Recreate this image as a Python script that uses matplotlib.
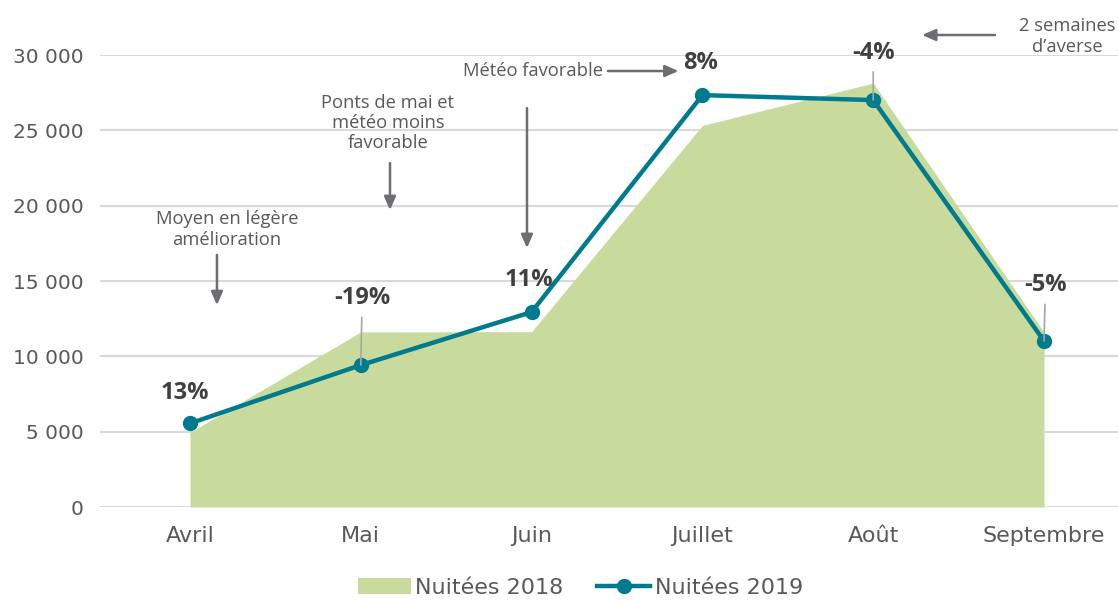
import matplotlib
matplotlib.use("Agg")
import matplotlib.pyplot as plt
from matplotlib.patches import Patch
from matplotlib.lines import Line2D

# --- data ---
mois = ["Avril", "Mai", "Juin", "Juillet", "Août", "Septembre"]
nuitees_2018 = [4950, 11620, 11640, 25330, 28140, 11600]
nuitees_2019 = [5550, 9420, 12940, 27340, 27010, 11020]
evolution = ["13%", "-19%", "11%", "8%", "-4%", "-5%"]
y_ticks = [0, 5000, 10000, 15000, 20000, 25000, 30000]
y_labels = ["0", "5 000", "10 000", "15 000", "20 000", "25 000", "30 000"]

GREEN = "#c9da9d"
TEAL = "#007b8e"
GRID = "#d9d9d9"
TXT = "#595959"
DARK = "#404040"
ARROW = "#6d6e71"

fig = plt.figure(figsize=(11.18, 6.01), dpi=100)
ax = fig.add_axes([0.0894, 0.1564, 0.9106, 0.752])

x = list(range(len(mois)))
ax.fill_between(x, 0, nuitees_2018, color=GREEN, lw=0, zorder=2)
ax.plot(x, nuitees_2019, color=TEAL, lw=3.2, marker="o", ms=10, zorder=4)

ax.set_xlim(-0.527, 5.433)
ax.set_ylim(0, 30000)
ax.set_yticks(y_ticks)
ax.set_yticklabels(y_labels)
ax.set_xticks(x)
ax.set_xticklabels(mois)
ax.tick_params(axis="y", length=0, pad=11.5, labelsize=14.5, labelcolor=TXT)
ax.tick_params(axis="x", length=0, pad=14, labelsize=16, labelcolor=TXT)
for s in ax.spines.values():
    s.set_visible(False)
ax.grid(axis="y", color=GRID, lw=1.5, zorder=0)
ax.set_axisbelow(True)

# percentage labels (offsets in points), some with a grey leader line
offsets = [(-4, 22), (1, 48), (-2, 23), (-1, 23), (0, 34), (1, 40)]
leader = [False, True, False, False, True, True]
for i in x:
    kw = dict(textcoords="offset points", ha="center", va="center",
              fontsize=17, fontweight="bold", color=DARK,
              fontfamily="Open Sans", zorder=5)
    if leader[i]:
        kw["arrowprops"] = dict(arrowstyle="-", color="#a6a6a6", lw=1.2,
                                shrinkA=3, shrinkB=0)
    ax.annotate(evolution[i], xy=(i, nuitees_2019[i]), xytext=offsets[i], **kw)

# comment boxes with arrows
note = dict(ha="center", va="center", fontsize=13.2, color=TXT,
            fontfamily="Open Sans", linespacing=1.15)
arr = dict(arrowstyle="-|>,head_length=0.8,head_width=0.35", color=ARROW, lw=1.8,
           shrinkA=0, shrinkB=0)

ax.text(0.217, 18420, "Moyen en légère\namélioration", **note)
ax.annotate("", xy=(0.158, 13400), xytext=(0.158, 16730), arrowprops=arr)

ax.text(1.159, 25490, "Ponts de mai et\nmétéo moins\nfavorable", **note)
ax.annotate("", xy=(1.171, 19710), xytext=(1.171, 22830), arrowprops=arr)

ax.annotate("", xy=(1.973, 17190), xytext=(1.973, 26480), arrowprops=arr)

ax.text(2.008, 28940, "Météo favorable", **note)
ax.annotate("", xy=(2.86, 28940), xytext=(2.447, 28940), arrowprops=arr,
            annotation_clip=False)

ax.text(5.135, 31230, "2 semaines\nd\u2019averse", clip_on=False, **note)
ax.annotate("", xy=(4.286, 31330), xytext=(4.713, 31330), arrowprops=arr,
            annotation_clip=False)

handles = [Patch(facecolor=GREEN, edgecolor="none"),
           Line2D([], [], color=TEAL, lw=3.2, marker="o", ms=10)]
fig.legend(handles, ["Nuitées 2018", "Nuitées 2019"], loc="center",
           bbox_to_anchor=(0.519, 0.022), ncol=2, frameon=False,
           fontsize=16, labelcolor=TXT, handlelength=2.4, handletextpad=0.2,
           columnspacing=1.5)

fig.savefig("out.png", dpi=100)
